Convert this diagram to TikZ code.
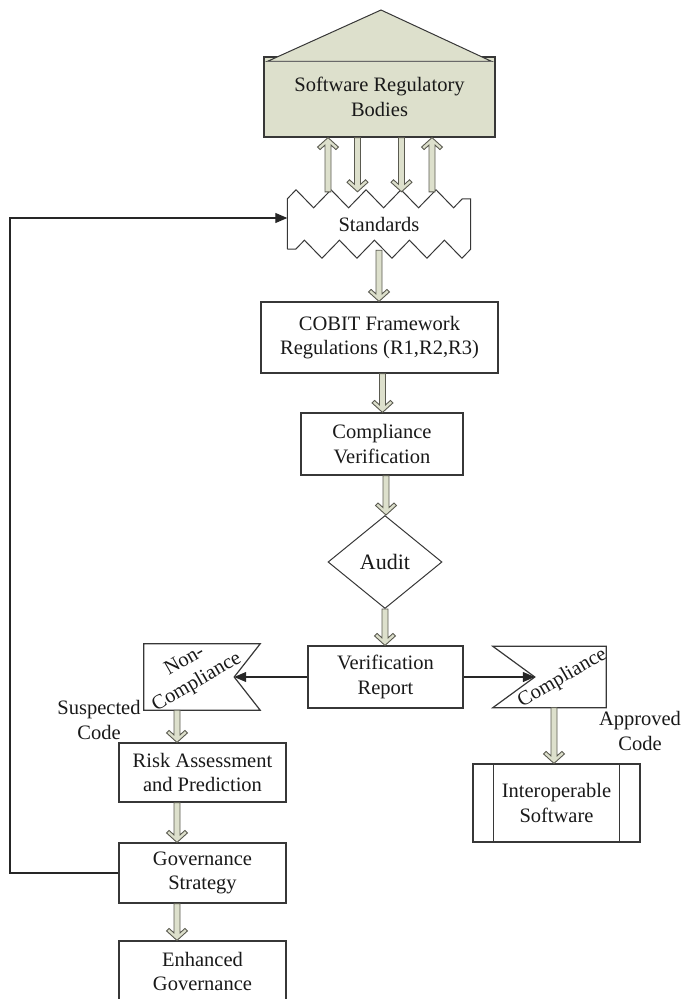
\documentclass[tikz,border=0pt]{standalone}
\usepackage{fontspec}
\setmainfont{Liberation Serif}
\usetikzlibrary{shapes.geometric,decorations.pathmorphing,arrows.meta,calc}

\definecolor{olivefill}{RGB}{221,224,204}
\definecolor{boxline}{RGB}{55,55,55}
\definecolor{arrowline}{RGB}{90,90,80}

% hollow block arrow, vertical, from #1 to the height of #2
\newcommand{\fatarrow}[2]{%
  \filldraw[fat] let \p1=(#1), \p2=(#2), \n1={(\y2-\y1)/abs(\y2-\y1)} in
    (\x1-3pt,\y1) -- (\x1-3pt,\y2-\n1*7.5pt) -- (\x1-8pt,\y2-\n1*12pt)
    -- (\x1-10.5pt,\y2-\n1*9.5pt) -- (\x1,\y2) -- (\x1+10.5pt,\y2-\n1*9.5pt)
    -- (\x1+8pt,\y2-\n1*12pt) -- (\x1+3pt,\y2-\n1*7.5pt) -- (\x1+3pt,\y1) -- cycle;}

\begin{document}
\begin{tikzpicture}[x=1pt,y=-1pt,
            font=\fontsize{20.5}{24.5}\selectfont,
            box/.style={draw=boxline,line width=1.2pt,align=center,inner sep=0pt,text=black!90},
            flow/.style={draw=black!85,line width=1.1pt,-{Triangle[length=12pt,width=10pt]}},
            fat/.style={fill=olivefill,draw=arrowline,line width=0.9pt,line join=miter}]
            \useasboundingbox (0,0) rectangle (690,999);

            % regulatory bodies (house)
            \node[box,fill=olivefill,minimum width=231pt,minimum height=80pt] (body) at (379.5,97) {Software Regulatory\\Bodies};
            \coordinate (apex) at (381,10);
            \filldraw[fill=olivefill,draw=boxline,line width=1pt] ([xshift=4pt,yshift=-5pt]body.north west) -- (apex) -- ([xshift=-4pt,yshift=-5pt]body.north east) -- cycle;
            \draw[boxline!75,line width=1.8pt] ([xshift=4pt,yshift=-5pt]body.north west) -- ([xshift=-4pt,yshift=-5pt]body.north east);

            % standards
            \node[minimum width=183pt,minimum height=50pt,inner sep=0pt,text=black!90] (std) at (379,224) {Standards};
            \draw[boxline,line width=1pt,decoration={zigzag,segment length=35pt,amplitude=9pt}]
                (std.south west) -- (std.north west) decorate {-- (std.north east)} -- (std.south east) decorate {-- (std.south west)};

            \fatarrow{[xshift=-51pt,yshift=7pt]std.north}{body.south}
            \fatarrow{[xshift=-22pt]body.south}{[yshift=7pt]std.north}
            \fatarrow{[xshift=22pt]body.south}{[yshift=7pt]std.north}
            \fatarrow{[xshift=53pt,yshift=7pt]std.north}{body.south}

            \node[box,minimum width=237pt,minimum height=71pt] (cobit) at (379.5,337.5) {COBIT Framework\\Regulations (R1,R2,R3)};
            \node[box,minimum width=162pt,minimum height=62pt] (cv) at (382,444) {Compliance\\Verification};
            \node[draw=boxline,line width=1pt,diamond,aspect=1.23,minimum width=114pt,minimum height=93pt,inner sep=0pt,
                text=black!90,font=\fontsize{22}{26}\selectfont] (audit) at (385,562) {Audit};
            \node[box,minimum width=155pt,minimum height=62pt] (vr) at (385.5,677) {Verification\\Report};

            \fatarrow{[yshift=-1pt]std.south}{cobit.north}
            \fatarrow{[xshift=3pt]cobit.south}{cv.north}
            \fatarrow{[xshift=4pt]cv.south}{audit.north}
            \fatarrow{audit.south}{vr.north}

            % non-compliance / compliance flags
            \node[minimum width=116pt,minimum height=66pt,inner sep=0pt] (nc) at (202,677) {};
            \coordinate (ncnotch) at ([xshift=-26pt]nc.east);
            \draw[box] (nc.north west) -- (nc.north east) -- (ncnotch) -- (nc.south east) -- (nc.south west) -- cycle;
            \node[rotate=30,align=center,text=black!90] (nctext) at ([xshift=-11pt,yshift=5pt]nc.center) {Non-\\Compliance};

            \node[minimum width=113pt,minimum height=61pt,inner sep=0pt] (cp) at (549.5,677) {};
            \coordinate (cpnotch) at ([xshift=42pt]cp.west);
            \draw[box] (cp.north west) -- (cp.north east) -- (cp.south east) -- (cp.south west) -- (cpnotch) -- cycle;
            \node[rotate=30,text=black!90] (cptext) at ([xshift=13pt,yshift=-1pt]cp.center) {Compliance};

            \draw[flow] (vr.west) -- (ncnotch);
            \draw[flow] (vr.east) -- (cpnotch);

            \node[align=center,text=black!90] (suspect) at (99,720) {Suspected\\Code};
            \node[align=center,text=black!90] (approved) at (640,731) {Approved\\Code};

            % lower boxes
            \node[box,minimum width=167pt,minimum height=59pt] (risk) at (202.5,772.5) {Risk Assessment\\and Prediction};
            \node[box,minimum width=167pt,minimum height=60pt] (gov) at (202.5,873) {Governance\\Strategy};
            \node[box,minimum width=167pt,minimum height=61pt] (enh) at (202.5,971.5) {Enhanced\\Governance};
            \node[box,minimum width=167pt,minimum height=78pt] (interop) at (556.5,803) {Interoperable\\Software};
            \draw[boxline,line width=1.2pt] ([xshift=21pt]interop.north west) -- ([xshift=21pt]interop.south west);
            \draw[boxline,line width=1.2pt] ([xshift=-21pt]interop.north east) -- ([xshift=-21pt]interop.south east);

            \fatarrow{[xshift=-25pt]nc.south}{risk.north}
            \fatarrow{[xshift=4.5pt]cp.south}{interop.north}
            \fatarrow{[xshift=-25.5pt]risk.south}{gov.north}
            \fatarrow{[xshift=-25.5pt]gov.south}{enh.north}

            % feedback to the standards
            \coordinate (fb) at (10,218);
            \draw[flow] (gov.west) -| (fb) -- ([yshift=6pt]std.west);

        \end{tikzpicture}
\end{document}
